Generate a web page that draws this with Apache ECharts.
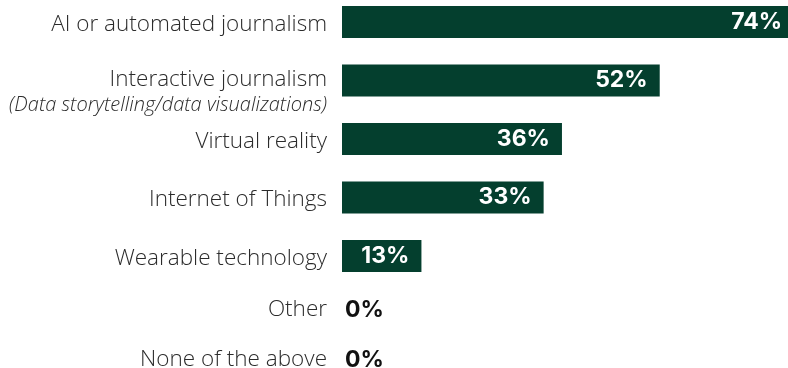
<!DOCTYPE html>
<html>
<head>
<meta charset="utf-8">
<script src="https://cdn.jsdelivr.net/npm/echarts@6/dist/echarts.min.js"></script>
<style>
  html, body { margin: 0; padding: 0; background: #fff; }
  #chart { width: 788px; height: 368px; }
</style>
</head>
<body>
<div id="chart"></div>
<script>
// Technologies with bars (top block)
const topCategories = [
  'AI or automated journalism',
  'Interactive journalism',
  'Virtual reality',
  'Internet of Things',
  'Wearable technology'
];
const topValues = [74, 52, 36, 33, 13];

// Answers with no responses (bottom block)
const bottomCategories = ['Other', 'None of the above'];
const bottomValues = [0, 0];

const subtitles = {
  'Interactive journalism': '(Data storytelling/data visualizations)'
};

const BAR = '#043f2e';
const LABEL_FONT = 'Open Sans';
const VALUE_FONT = 'Inter';
const LABEL_SIZE = 22.5;

const chart = echarts.init(document.getElementById('chart'), null, { renderer: 'canvas' });

function categoryLabel(value) {
  if (subtitles[value]) {
    return '{main|' + value + '}\n{sub|' + subtitles[value] + '}';
  }
  return value;
}

function categoryAxis(gridIndex, data, padTop) {
  return {
    gridIndex: gridIndex, data: data,
    type: 'category', inverse: true,
    axisLine: { show: false }, axisTick: { show: false }, splitLine: { show: false },
    axisLabel: {
      margin: 15,
      padding: [padTop, 0, 0, 0],
      fontFamily: LABEL_FONT, fontWeight: 300, fontSize: LABEL_SIZE, color: '#2b2b2b',
      align: 'right',
      formatter: categoryLabel,
      rich: {
        main: { fontFamily: LABEL_FONT, fontWeight: 300, fontSize: LABEL_SIZE, color: '#2b2b2b', lineHeight: 44, align: 'right' },
        sub: { fontFamily: LABEL_FONT, fontWeight: 300, fontStyle: 'italic', fontSize: 20, color: '#2b2b2b', lineHeight: 6, align: 'right' }
      }
    }
  };
}

function valueAxis(gridIndex) {
  return { gridIndex: gridIndex, type: 'value', min: 0, max: 100, show: false, splitLine: { show: false } };
}

chart.setOption({
  animation: false,
  grid: [
    { left: 342, top: -7.25, width: 611, height: 292.5, outerBoundsMode: 'none', containLabel: false },
    { left: 342, top: 285, width: 611, height: 100, outerBoundsMode: 'none', containLabel: false }
  ],
  xAxis: [valueAxis(0), valueAxis(1)],
  yAxis: [categoryAxis(0, topCategories, 5), categoryAxis(1, bottomCategories, 0)],
  series: [
    {
      type: 'bar', xAxisIndex: 0, yAxisIndex: 0,
      data: topValues, barWidth: 32,
      itemStyle: { color: BAR },
      label: {
        show: true, position: 'insideRight', distance: 12,
        formatter: p => p.value + '%',
        fontFamily: VALUE_FONT, fontWeight: 700, fontSize: 23, color: '#ffffff'
      }
    },
    {
      type: 'bar', xAxisIndex: 1, yAxisIndex: 1,
      data: bottomValues, barWidth: 32,
      itemStyle: { color: BAR },
      label: {
        show: true, position: 'right', distance: 3,
        formatter: p => p.value + '%',
        fontFamily: VALUE_FONT, fontWeight: 700, fontSize: 23, color: '#111111'
      }
    }
  ]
});
</script>
</body>
</html>
